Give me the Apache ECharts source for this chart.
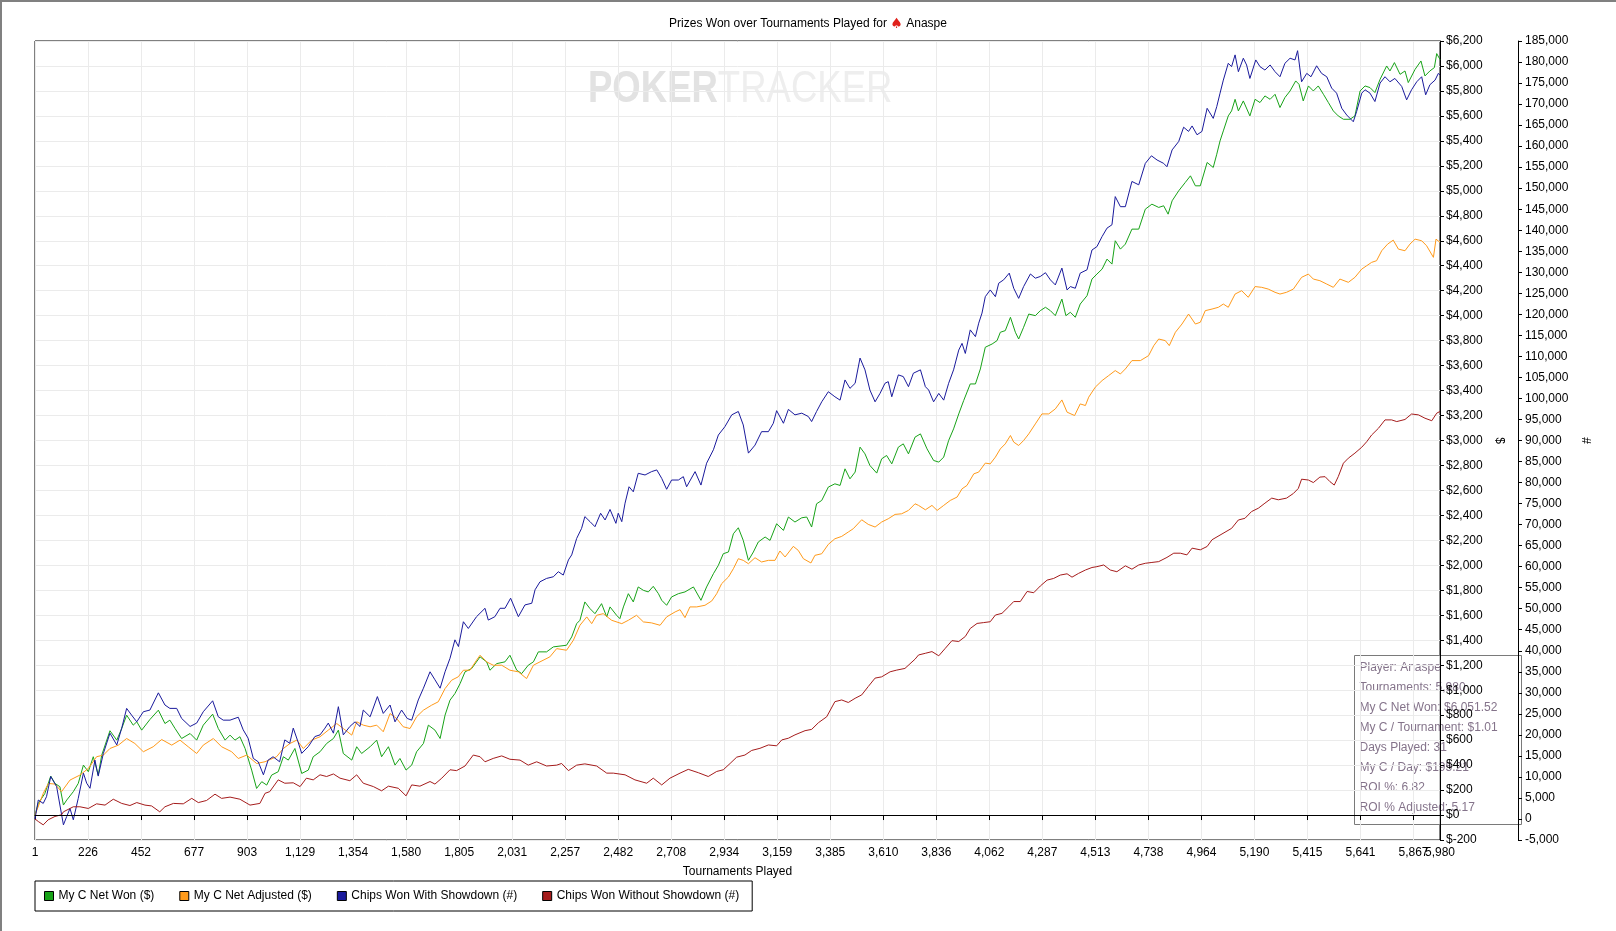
<!DOCTYPE html>
<html>
<head>
<meta charset="utf-8">
<title>Prizes Won over Tournaments Played</title>
<script src="https://cdn.jsdelivr.net/npm/echarts@6/dist/echarts.min.js"></script>
<style>
  html, body { margin: 0; padding: 0; background: #fff; }
  #main { width: 1616px; height: 931px; }
</style>
</head>
<body>
<div id="main"></div>
<script>
// tournaments played (x) and values: [tournament, value]
var xMin = 1, xMax = 5980;
var xTickLabels = ['1','226','452','677','903','1,129','1,354','1,580','1,805','2,031','2,257','2,482','2,708','2,934',
    '3,159','3,385','3,610','3,836','4,062','4,287','4,513','4,738','4,964','5,190','5,415','5,641','5,867','5,980'];

// My C Net Won ($)
var netWon = [[1,0],[15,93],[43,173],[68,312],[86,253],[107,227],[122,80],[136,120],[164,187],[185,253],[207,400],[228,347],
    [249,467],[270,320],[285,480],[320,675],[349,600],[370,693],[391,800],[419,720],[434,747],[455,680],[490,765],[526,840],
    [554,733],[575,760],[597,693],[625,613],[661,653],[689,600],[717,720],[757,808],[781,693],[810,600],[831,640],[852,600],
    [873,627],[895,533],[923,360],[944,213],[966,267],[987,240],[1008,320],[1036,347],[1058,467],[1079,440],[1107,533],
    [1136,333],[1164,360],[1185,467],[1214,507],[1242,573],[1271,613],[1292,680],[1313,493],[1349,440],[1370,547],[1391,493],
    [1427,547],[1455,600],[1476,467],[1505,547],[1533,400],[1554,453],[1580,360],[1604,400],[1625,507],[1654,573],[1675,720],
    [1703,680],[1725,613],[1746,800],[1767,920],[1788,973],[1810,1053],[1831,1147],[1859,1173],[1895,1267],[1923,1227],
    [1937,1160],[1966,1213],[2001,1227],[2022,1280],[2051,1160],[2072,1133],[2100,1200],[2122,1227],[2143,1307],[2178,1307],
    [2207,1347],[2263,1360],[2285,1427],[2306,1533],[2320,1560],[2341,1707],[2363,1653],[2384,1613],[2412,1693],[2434,1587],
    [2448,1667],[2476,1600],[2490,1573],[2505,1667],[2526,1773],[2547,1707],[2568,1827],[2590,1800],[2611,1787],[2632,1832],
    [2654,1773],[2668,1720],[2689,1680],[2710,1747],[2739,1773],[2767,1787],[2803,1827],[2835,1720],[2859,1827],[2888,1933],
    [2909,2000],[2930,2093],[2952,2107],[2973,2253],[2994,2301],[3015,2200],[3037,2040],[3058,2107],[3079,2187],[3108,2227],
    [3129,2200],[3157,2333],[3186,2280],[3207,2387],[3235,2347],[3264,2381],[3285,2387],[3306,2307],[3327,2493],[3349,2520],
    [3377,2627],[3405,2653],[3427,2640],[3448,2773],[3469,2693],[3491,2747],[3512,2947],[3533,2893],[3554,2800],[3583,2739],
    [3604,2853],[3625,2880],[3647,2813],[3675,2947],[3696,2973],[3718,2893],[3746,3027],[3769,3053],[3797,2933],[3825,2840],
    [3847,2827],[3868,2867],[3889,3000],[3910,3093],[3932,3213],[3953,3320],[3981,3453],[4003,3453],[4024,3573],[4045,3747],
    [4074,3773],[4095,3800],[4109,3867],[4130,3880],[4152,3987],[4173,3867],[4187,3813],[4208,3907],[4230,4013],[4258,4000],
    [4279,4040],[4301,4067],[4322,4040],[4343,4000],[4371,4133],[4388,4000],[4407,4027],[4428,3987],[4449,4093],[4478,4160],
    [4499,4293],[4520,4333],[4542,4373],[4563,4453],[4584,4413],[4598,4600],[4620,4533],[4641,4573],[4669,4693],[4698,4693],
    [4726,4853],[4754,4893],[4783,4867],[4804,4880],[4823,4813],[4840,4920],[4868,5000],[4896,5067],[4918,5120],[4939,5040],
    [4960,5040],[4989,5227],[5015,5187],[5030,5293],[5044,5400],[5058,5480],[5079,5600],[5093,5640],[5108,5733],[5122,5640],
    [5143,5720],[5171,5600],[5193,5733],[5214,5707],[5235,5760],[5257,5733],[5278,5773],[5299,5667],[5320,5747],[5342,5800],
    [5366,5880],[5380,5853],[5398,5720],[5420,5840],[5441,5800],[5462,5840],[5484,5773],[5505,5707],[5526,5640],[5547,5600],
    [5569,5573],[5597,5573],[5618,5600],[5640,5800],[5661,5840],[5682,5827],[5703,5787],[5725,5893],[5753,6000],[5767,5960],
    [5786,6027],[5810,5933],[5831,5960],[5845,5867],[5874,5973],[5899,6040],[5916,5920],[5937,5960],[5956,5987],[5966,6099],
    [5980,6052]];

// My C Net Adjusted ($)
var netAdjusted = [[1,0],[36,173],[58,253],[86,248],[114,187],[150,280],[192,320],[228,373],[263,467],[292,480],[320,533],
    [356,560],[391,613],[426,573],[462,507],[504,547],[540,605],[583,560],[618,600],[653,547],[689,493],[717,560],[760,613],
    [795,547],[838,507],[866,453],[902,480],[944,413],[980,427],[1029,467],[1058,533],[1086,573],[1115,600],[1143,533],
    [1178,600],[1214,627],[1249,680],[1285,733],[1313,693],[1349,640],[1370,747],[1398,720],[1427,707],[1455,720],[1483,667],
    [1512,813],[1540,773],[1568,707],[1597,693],[1625,787],[1654,840],[1689,880],[1717,907],[1746,1013],[1774,1080],
    [1802,1107],[1824,1160],[1852,1160],[1880,1240],[1895,1280],[1923,1227],[1951,1200],[1987,1200],[2022,1160],[2058,1147],
    [2093,1093],[2122,1200],[2150,1227],[2192,1267],[2221,1333],[2263,1320],[2292,1400],[2320,1520],[2349,1587],[2370,1533],
    [2391,1600],[2419,1613],[2455,1560],[2498,1533],[2526,1560],[2561,1600],[2590,1547],[2625,1539],[2661,1520],[2689,1587],
    [2725,1627],[2746,1645],[2767,1581],[2788,1667],[2817,1667],[2852,1680],[2881,1715],[2902,1773],[2923,1853],[2952,1907],
    [2973,1973],[2994,2053],[3015,2040],[3037,2013],[3065,2061],[3093,2027],[3122,2040],[3150,2040],[3171,2115],[3193,2067],
    [3228,2152],[3249,2120],[3271,2053],[3303,2019],[3320,2080],[3349,2093],[3377,2168],[3405,2213],[3434,2232],[3462,2267],
    [3483,2293],[3519,2365],[3547,2328],[3576,2307],[3604,2347],[3632,2373],[3661,2408],[3689,2413],[3718,2440],[3746,2493],
    [3761,2480],[3790,2445],[3818,2480],[3840,2440],[3868,2480],[3896,2520],[3925,2547],[3946,2613],[3967,2640],[3996,2733],
    [4017,2747],[4045,2819],[4066,2813],[4088,2867],[4109,2933],[4130,2973],[4152,3040],[4166,2987],[4187,2960],[4208,3000],
    [4230,3053],[4258,3133],[4286,3213],[4315,3213],[4343,3253],[4371,3325],[4393,3227],[4425,3200],[4449,3293],[4471,3280],
    [4485,3347],[4513,3427],[4542,3480],[4570,3520],[4598,3560],[4620,3533],[4641,3573],[4669,3640],[4705,3640],[4740,3680],
    [4762,3760],[4783,3813],[4811,3800],[4828,3760],[4854,3867],[4882,3933],[4910,4013],[4939,3933],[4960,3947],[4981,4040],
    [5010,4053],[5037,4067],[5058,4093],[5079,4067],[5108,4173],[5136,4200],[5164,4147],[5193,4233],[5221,4227],[5249,4213],
    [5278,4187],[5299,4173],[5327,4187],[5356,4213],[5391,4307],[5420,4333],[5441,4293],[5469,4280],[5498,4253],[5526,4227],
    [5554,4293],[5590,4267],[5618,4307],[5647,4373],[5668,4400],[5689,4427],[5710,4440],[5732,4520],[5757,4573],[5781,4605],
    [5803,4533],[5831,4520],[5852,4573],[5874,4613],[5902,4600],[5923,4560],[5952,4467],[5963,4613],[5980,4587]];

// Chips Won With Showdown (#)
var chipsShowdown = [[1,0],[15,4500],[36,3700],[50,5300],[68,10100],[93,7700],[122,-1400],[136,600],[150,2500],[164,-200],
    [185,4900],[207,10900],[221,8500],[235,7300],[256,14000],[270,10200],[292,15600],[320,20400],[349,17600],[370,21600],
    [391,26300],[412,24700],[434,23100],[462,25500],[490,25900],[526,30000],[554,27100],[575,26300],[604,26300],[625,23900],
    [661,22000],[689,22800],[717,25500],[757,28100],[781,24300],[802,23500],[831,23500],[866,24200],[887,21200],[908,19200],
    [930,14400],[951,13600],[973,10500],[993,14000],[1014,14800],[1042,13600],[1064,18800],[1085,18000],[1100,21600],
    [1120,18400],[1136,15600],[1164,17200],[1192,19600],[1214,20000],[1235,21600],[1249,22800],[1271,20400],[1292,26700],
    [1313,20000],[1341,22000],[1363,23100],[1384,22000],[1398,25900],[1427,24300],[1458,29100],[1483,25100],[1512,27100],
    [1533,23100],[1561,25900],[1585,23900],[1604,23500],[1632,28300],[1654,31100],[1682,35000],[1703,33100],[1725,31100],
    [1746,35000],[1767,38200],[1788,42600],[1803,41000],[1824,46900],[1845,45300],[1880,48100],[1916,50100],[1930,47300],
    [1958,48100],[1980,50100],[2001,50100],[2025,52500],[2058,48100],[2086,50900],[2115,51300],[2129,54500],[2150,56400],
    [2178,57200],[2207,57600],[2228,58800],[2249,58000],[2271,61600],[2285,62800],[2306,66700],[2327,69100],[2341,71900],
    [2363,70700],[2384,69500],[2408,72700],[2427,71100],[2448,73600],[2473,70300],[2483,72700],[2498,70700],[2512,75100],
    [2529,79000],[2547,77800],[2568,82200],[2597,81800],[2625,82600],[2647,83000],[2668,81000],[2689,78400],[2710,80600],
    [2739,80600],[2760,81400],[2774,79000],[2810,82600],[2835,79400],[2859,84600],[2888,87800],[2909,91300],[2937,93300],
    [2966,96100],[2994,96900],[3015,93700],[3037,87000],[3065,88900],[3093,92100],[3122,92100],[3143,94100],[3157,97100],
    [3186,94100],[3207,97400],[3235,96100],[3264,96500],[3292,95700],[3306,94500],[3327,96900],[3349,99200],[3377,101600],
    [3405,100400],[3427,99600],[3448,104400],[3469,102400],[3491,103600],[3512,109600],[3533,106800],[3554,102000],
    [3576,99200],[3597,101200],[3618,103600],[3632,104000],[3647,100400],[3675,105600],[3696,105200],[3718,102800],
    [3739,106000],[3769,106800],[3790,102800],[3804,102000],[3825,99200],[3847,101200],[3868,99600],[3889,103600],
    [3910,106800],[3932,111500],[3946,113100],[3960,110700],[3981,116300],[4003,114700],[4017,117900],[4031,120300],
    [4045,124200],[4066,125800],[4088,124200],[4102,127400],[4123,128200],[4147,129800],[4166,126200],[4187,123800],
    [4208,126600],[4237,129600],[4258,128600],[4279,129000],[4301,129900],[4322,128200],[4343,127000],[4371,131000],
    [4393,125800],[4407,126600],[4428,126200],[4449,129800],[4478,130600],[4499,135300],[4520,136100],[4542,138500],
    [4563,140500],[4584,141300],[4598,148000],[4620,145600],[4641,145600],[4669,151600],[4698,150800],[4726,155900],
    [4752,157700],[4776,156700],[4804,155900],[4818,155100],[4840,159100],[4868,161100],[4889,164500],[4910,163500],
    [4925,164800],[4946,162700],[4967,163500],[4989,169000],[5015,166600],[5030,169400],[5044,172600],[5058,175700],
    [5079,179700],[5093,178900],[5108,181700],[5122,177700],[5143,180900],[5157,179300],[5171,176100],[5196,180500],
    [5214,178900],[5235,178100],[5257,179300],[5278,177700],[5299,176500],[5320,179700],[5342,180900],[5363,180500],
    [5374,182700],[5391,175300],[5413,177300],[5431,176500],[5455,179100],[5476,177300],[5498,176500],[5519,173800],
    [5540,172600],[5562,169000],[5583,167400],[5611,165800],[5625,168200],[5647,172600],[5661,173400],[5682,172600],
    [5703,170600],[5725,175000],[5746,176500],[5767,175300],[5788,176100],[5817,174200],[5838,171000],[5859,173400],
    [5881,175300],[5902,176500],[5919,172200],[5937,174600],[5959,175700],[5973,177300],[5980,176900]];

// Chips Won Without Showdown (#)
var chipsNoShowdown = [[1,0],[15,-600],[36,-1400],[57,-200],[86,600],[114,1000],[122,1700],[164,2900],[192,2900],[228,2500],
    [263,3600],[299,3300],[334,4700],[370,3700],[405,3200],[434,3900],[469,3300],[497,3100],[532,1700],[554,2900],[590,3700],
    [632,3600],[668,4900],[696,3900],[731,4400],[767,5900],[795,4900],[831,5200],[873,4700],[916,3300],[958,3700],[980,6100],
    [1000,6500],[1036,9300],[1064,8500],[1100,8600],[1129,7700],[1156,9700],[1185,9300],[1214,10500],[1242,10100],
    [1271,10700],[1299,9700],[1341,9100],[1370,10500],[1398,8500],[1441,7700],[1476,6700],[1505,7800],[1547,7300],
    [1580,5500],[1604,8100],[1639,7800],[1682,8900],[1703,8300],[1732,9700],[1767,11700],[1795,11500],[1831,12600],
    [1866,15200],[1895,14800],[1916,13600],[1951,14400],[1987,15000],[2022,14200],[2065,14000],[2100,12800],[2136,13600],
    [2178,12600],[2221,12800],[2242,13200],[2271,11500],[2306,12800],[2341,13100],[2391,12600],[2434,10900],[2462,10900],
    [2512,10500],[2554,9300],[2604,8500],[2632,9700],[2668,8100],[2703,9700],[2746,10900],[2781,11800],[2824,11000],
    [2866,10100],[2902,11300],[2930,11700],[2959,13200],[2987,14700],[3022,15200],[3051,16300],[3086,16800],[3122,17600],
    [3157,17400],[3179,18800],[3207,19200],[3235,20000],[3278,21000],[3306,21300],[3335,22900],[3370,24300],[3405,27900],
    [3434,28300],[3462,27700],[3491,28700],[3519,29500],[3547,31500],[3576,33500],[3604,33800],[3640,35000],[3668,35400],
    [3703,35800],[3746,38000],[3761,39000],[3790,39400],[3818,39800],[3847,38800],[3875,40600],[3903,42400],[3932,42200],
    [3960,43400],[3981,45300],[4010,46500],[4038,46700],[4066,46900],[4088,48500],[4116,48900],[4145,50500],[4166,51700],
    [4194,51700],[4223,54100],[4251,53800],[4279,55400],[4308,56800],[4336,57200],[4364,58000],[4393,58300],[4414,57500],
    [4442,58400],[4471,59200],[4499,59800],[4520,60000],[4549,60400],[4577,59200],[4605,58800],[4641,60200],[4669,59400],
    [4698,60400],[4726,60800],[4754,61000],[4783,61200],[4818,62200],[4847,63200],[4875,63200],[4903,62800],[4925,64400],
    [4960,64000],[4989,64800],[5010,66400],[5093,69100],[5122,71100],[5150,71500],[5178,73100],[5207,73900],[5235,75100],
    [5264,76300],[5292,75900],[5327,76300],[5356,77400],[5377,78600],[5391,80800],[5420,80600],[5441,80000],[5469,81300],
    [5491,81400],[5512,80200],[5530,79400],[5547,81400],[5569,84600],[5590,85800],[5618,87000],[5647,88400],[5668,89700],
    [5689,91300],[5718,92900],[5746,94900],[5774,94900],[5796,94500],[5831,95000],[5859,96300],[5888,96100],[5916,95300],
    [5945,94700],[5966,96500],[5980,96900]];

var statLines = ['Player: Anaspe', 'Tournaments: 5,980', 'My C Net Won: $6,051.52', 'My C / Tournament: $1.01',
    'Days Played: 31', 'My C / Day: $195.21', 'ROI %: 6.82', 'ROI % Adjusted: 5.17'];

var seriesNames = ['My C Net Won ($)', 'My C Net Adjusted ($)', 'Chips Won With Showdown (#)', 'Chips Won Without Showdown (#)'];
var seriesColors = ['#18a318', '#ff9a1a', '#1a1a9c', '#a51c1c'];

var FONT = '"Liberation Sans", Arial, sans-serif';
var xInterval = (xMax - xMin) / 26.5;

function dollar(v) {
    return v < 0 ? '$-' + Math.abs(v).toLocaleString('en-US') : '$' + v.toLocaleString('en-US');
}

function tickIndex(v) {
    return Math.round((v - xMin) / xInterval);
}

function drawChart() {
    var myChart = echarts.init(document.getElementById('main'));

    var statTexts = statLines.map(function (s, i) {
        return {
            type: 'text', left: 5, top: 6 + i * 20,
            style: { text: s, fill: 'rgba(125,108,132,0.95)', font: '12px ' + FONT }
        };
    });

    var option = {
        animation: false,
        backgroundColor: '#fff',
        textStyle: { fontFamily: FONT },
        title: {
            text: '{a|Prizes Won over Tournaments Played for }{s|♠}{a| Anaspe}',
            left: 'center', top: 12,
            textStyle: {
                fontWeight: 'normal',
                rich: {
                    a: { fontSize: 12, fontWeight: 'normal', color: '#000', fontFamily: FONT },
                    s: { fontSize: 14, fontWeight: 'normal', color: '#e0211b', fontFamily: '"DejaVu Sans", sans-serif' }
                }
            }
        },
        grid: {
            left: 35, top: 41, right: 176, bottom: 91,
            show: true, borderColor: '#000', borderWidth: 1, containLabel: false
        },
        legend: {
            data: seriesNames,
            left: 35, top: 881,
            icon: 'rect', itemWidth: 9, itemHeight: 9, itemGap: 25,
            padding: [9, 13, 9, 9],
            borderColor: '#000', borderWidth: 1,
            itemStyle: { borderColor: '#000', borderWidth: 1 },
            textStyle: { fontSize: 12, color: '#000', fontFamily: FONT }
        },
        xAxis: [
            {
                type: 'value', min: xMin, max: xMax, interval: xInterval,
                name: 'Tournaments Played', nameLocation: 'middle', nameGap: 26,
                nameTextStyle: { fontSize: 12, color: '#000' },
                axisLine: { lineStyle: { color: '#000' } },
                axisTick: { show: true, length: 5, lineStyle: { color: '#000' } },
                axisLabel: {
                    fontSize: 12, color: '#000', margin: 7,
                    showMinLabel: true, showMaxLabel: false, hideOverlap: false,
                    formatter: function (v) { return xTickLabels[tickIndex(v)] || ''; }
                },
                splitLine: { show: true, lineStyle: { color: '#ebebeb' } }
            },
            {
                // carries only the last label, so that it may overlap the one before it
                type: 'value', position: 'bottom', min: xMin, max: xMax, interval: xInterval,
                axisLine: { show: false }, axisTick: { show: false }, splitLine: { show: false },
                axisLabel: {
                    fontSize: 12, color: '#000', margin: 7,
                    showMinLabel: false, showMaxLabel: true, hideOverlap: false,
                    formatter: function (v) {
                        return tickIndex(v) === xTickLabels.length - 1 ? xTickLabels[xTickLabels.length - 1] : '';
                    }
                }
            }
        ],
        yAxis: [
            {
                type: 'value', position: 'right', min: -200, max: 6200, interval: 200,
                name: '$', nameLocation: 'middle', nameGap: 51, nameRotate: -90,
                nameTextStyle: { fontSize: 12, color: '#000' },
                axisLine: { show: true, lineStyle: { color: '#000' } },
                axisTick: { show: true, length: 4, lineStyle: { color: '#000' } },
                axisLabel: { fontSize: 12, color: '#000', margin: 6, formatter: dollar },
                splitLine: { show: true, lineStyle: { color: '#ebebeb' } }
            },
            {
                type: 'value', position: 'right', offset: 78, min: -5000, max: 185000, interval: 5000,
                name: '#', nameLocation: 'middle', nameGap: 58, nameRotate: -90,
                nameTextStyle: { fontSize: 12, color: '#000' },
                axisLine: { show: true, lineStyle: { color: '#000' } },
                axisTick: { show: true, length: 4, lineStyle: { color: '#000' } },
                axisLabel: { fontSize: 12, color: '#000', margin: 7,
                    formatter: function (v) { return v.toLocaleString('en-US'); } },
                splitLine: { show: false }
            }
        ],
        series: [
            {
                name: seriesNames[0], type: 'line', yAxisIndex: 0, data: netWon,
                showSymbol: false, symbol: 'none', lineStyle: { width: 1, color: seriesColors[0] },
                itemStyle: { color: seriesColors[0] },
                markLine: {
                    silent: true, symbol: 'none', label: { show: false },
                    lineStyle: { color: '#000', width: 1, type: 'solid' },
                    data: [{ yAxis: 0 }]
                }
            },
            {
                name: seriesNames[1], type: 'line', yAxisIndex: 0, data: netAdjusted,
                showSymbol: false, symbol: 'none', lineStyle: { width: 1, color: seriesColors[1] },
                itemStyle: { color: seriesColors[1] }
            },
            {
                name: seriesNames[2], type: 'line', yAxisIndex: 1, data: chipsShowdown,
                showSymbol: false, symbol: 'none', lineStyle: { width: 1, color: seriesColors[2] },
                itemStyle: { color: seriesColors[2] }
            },
            {
                name: seriesNames[3], type: 'line', yAxisIndex: 1, data: chipsNoShowdown,
                showSymbol: false, symbol: 'none', lineStyle: { width: 1, color: seriesColors[3] },
                itemStyle: { color: seriesColors[3] }
            }
        ],
        graphic: [
            // watermark
            {
                type: 'text', x: 588, y: 68, scaleX: 0.83, z: -10, silent: true,
                style: {
                    text: '{p|POKER}{t|TRACKER}',
                    rich: {
                        p: { fontSize: 44, fontWeight: 'bold', fill: '#e2e2e2',
                            fontFamily: '"Liberation Sans Narrow", "Liberation Sans", sans-serif' },
                        t: { fontSize: 44, fontWeight: 'normal', fill: '#eeeeee',
                            fontFamily: '"Liberation Sans Narrow", "Liberation Sans", sans-serif' }
                    }
                }
            },
            // frame edges
            { type: 'line', shape: { x1: 0, y1: 1, x2: 1616, y2: 1 }, style: { stroke: '#808080', lineWidth: 2 } },
            { type: 'line', shape: { x1: 1, y1: 0, x2: 1, y2: 931 }, style: { stroke: '#808080', lineWidth: 2 } },
            // stats box
            {
                type: 'group', left: 1354, top: 655, z: 100,
                children: [{
                    type: 'rect', shape: { x: 0, y: 0, width: 167, height: 169 },
                    style: { fill: 'rgba(255,255,255,0.55)', stroke: '#7a7a7a', lineWidth: 1 }
                }].concat(statTexts)
            }
        ]
    };

    myChart.setOption(option);
}

drawChart();
</script>
</body>
</html>
